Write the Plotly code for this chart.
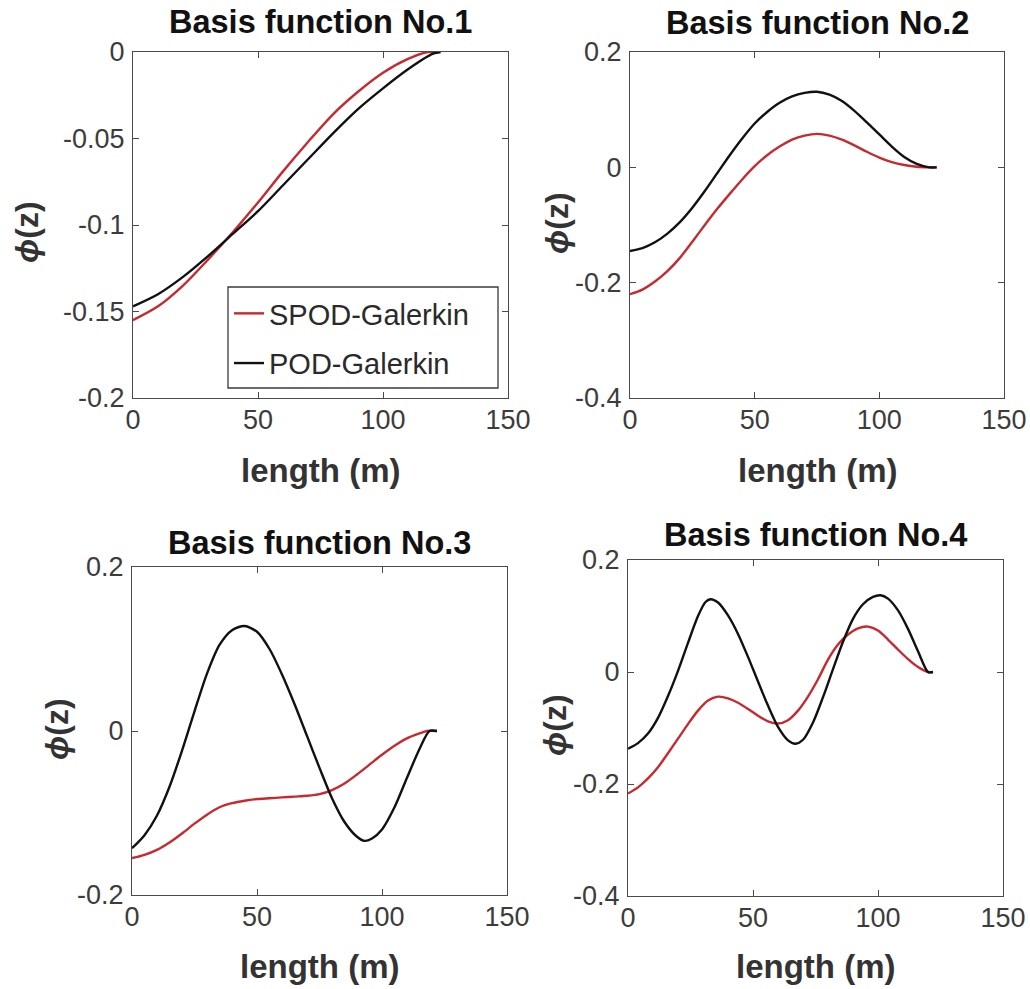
import plotly.graph_objects as go

# ---- basis function samples along the riser length (m) ----
# No.1
z1_spod = [0, 10, 20, 30, 40, 50, 60, 70, 80, 90, 100, 110, 118, 123]
phi1_spod = [-0.155, -0.147, -0.135, -0.120, -0.104, -0.087, -0.069, -0.052,
             -0.036, -0.023, -0.012, -0.004, 0.0, 0.0]
z1_pod = [0, 10, 20, 30, 40, 50, 60, 70, 80, 90, 100, 110, 120, 123]
phi1_pod = [-0.147, -0.140, -0.130, -0.118, -0.105, -0.092, -0.077, -0.062,
            -0.047, -0.033, -0.021, -0.010, -0.001, 0.0]

# No.2
z2_spod = [0, 5, 10, 15, 20, 25, 30, 35, 40, 45, 50, 55, 60, 65, 70, 75,
           80, 85, 90, 95, 100, 105, 110, 115, 120, 123]
phi2_spod = [-0.220, -0.212, -0.198, -0.180, -0.157, -0.129, -0.100, -0.072,
             -0.046, -0.021, 0.002, 0.021, 0.036, 0.048, 0.055, 0.058,
             0.055, 0.048, 0.038, 0.027, 0.017, 0.009, 0.004, 0.001, 0.0, 0.0]
z2_pod = [0, 5, 10, 15, 20, 25, 30, 35, 40, 45, 50, 55, 60, 65, 70, 75,
          80, 85, 90, 95, 100, 105, 110, 115, 120, 123]
phi2_pod = [-0.145, -0.140, -0.130, -0.115, -0.095, -0.070, -0.041, -0.010,
            0.021, 0.050, 0.076, 0.096, 0.112, 0.123, 0.129, 0.131,
            0.126, 0.115, 0.098, 0.078, 0.057, 0.036, 0.018, 0.006, 0.0, 0.0]

# No.3
z3_spod = [0, 5, 10, 15, 20, 25, 30, 35, 40, 45, 50, 55, 60, 65, 70, 75,
           80, 85, 90, 95, 100, 105, 110, 115, 118, 122]
phi3_spod = [-0.155, -0.151, -0.145, -0.136, -0.125, -0.113, -0.102, -0.093,
             -0.088, -0.085, -0.083, -0.082, -0.081, -0.080, -0.079, -0.077,
             -0.072, -0.064, -0.053, -0.041, -0.029, -0.018, -0.009, -0.003,
             0.0, 0.0]
z3_pod = [0, 5, 10, 15, 20, 25, 30, 35, 40, 45, 50, 55, 60, 65, 70, 75,
          80, 85, 90, 93, 96, 100, 105, 110, 115, 119, 122]
phi3_pod = [-0.143, -0.127, -0.103, -0.068, -0.024, 0.024, 0.070, 0.105,
            0.123, 0.128, 0.121, 0.100, 0.069, 0.033, -0.006, -0.045,
            -0.082, -0.111, -0.129, -0.134, -0.131, -0.120, -0.093, -0.057,
            -0.022, 0.0, 0.0]

# No.4
z4_spod = [0, 4, 8, 12, 16, 20, 24, 28, 32, 36, 40, 44, 48, 52, 56, 60,
           64, 68, 72, 76, 80, 84, 88, 92, 96, 100, 104, 108, 112, 116,
           120, 122]
phi4_spod = [-0.217, -0.206, -0.190, -0.170, -0.145, -0.119, -0.093, -0.069,
             -0.051, -0.044, -0.047, -0.055, -0.066, -0.078, -0.088, -0.092,
             -0.086, -0.069, -0.044, -0.013, 0.022, 0.049, 0.067, 0.078,
             0.081, 0.074, 0.058, 0.040, 0.023, 0.009, 0.0, 0.0]
z4_pod = [0, 4, 8, 12, 16, 20, 24, 28, 31, 33, 36, 40, 44, 48, 52, 56,
          60, 64, 67, 70, 74, 78, 82, 86, 90, 94, 98, 101, 104, 108, 112,
          116, 120, 122]
phi4_pod = [-0.137, -0.127, -0.110, -0.082, -0.043, 0.002, 0.052, 0.100,
            0.125, 0.130, 0.124, 0.101, 0.068, 0.027, -0.017, -0.060,
            -0.098, -0.122, -0.128, -0.121, -0.090, -0.045, 0.005, 0.054,
            0.095, 0.121, 0.134, 0.137, 0.131, 0.110, 0.077, 0.037, 0.0, 0.0]

panel_titles = ["Basis function No.1", "Basis function No.2",
                "Basis function No.3", "Basis function No.4"]
series_names = ["SPOD-Galerkin", "POD-Galerkin"]
y_ranges = [[-0.2, 0.0], [-0.4, 0.2], [-0.2, 0.2], [-0.4, 0.2]]
y_ticks = [[-0.2, -0.15, -0.1, -0.05, 0.0], [-0.4, -0.2, 0.0, 0.2],
           [-0.2, 0.0, 0.2], [-0.4, -0.2, 0.0, 0.2]]
y_ticktext = [["-0.2", "-0.15", "-0.1", "-0.05", "0"], ["-0.4", "-0.2", "0", "0.2"],
              ["-0.2", "0", "0.2"], ["-0.4", "-0.2", "0", "0.2"]]
x_ticks = [0, 50, 100, 150]

W, H = 1030, 989
RED = "#c62a30"
BLACK = "#111111"
FONT = "Liberation Sans, Arial, Helvetica, sans-serif"

# plot areas in pixels: (left, right, top, bottom)
boxes = [(133, 508, 52, 398), (630, 1004, 52, 398),
         (132, 507, 567, 895), (628, 1003, 560, 896)]
title_rows = [22, 23, 543, 535]
xlabel_rows = [470, 470, 966, 966]
ylabel_pos = [(27, 232), (557, 223), (57, 729), (555, 725)]
# legend frame in pixels: (left, right, top, bottom)
legend_frame = (228, 498, 287, 388)

spod = [(z1_spod, phi1_spod), (z2_spod, phi2_spod),
        (z3_spod, phi3_spod), (z4_spod, phi4_spod)]
pod = [(z1_pod, phi1_pod), (z2_pod, phi2_pod),
       (z3_pod, phi3_pod), (z4_pod, phi4_pod)]

fig = go.Figure()

for i in range(4):
    xa = "x" if i == 0 else f"x{i + 1}"
    ya = "y" if i == 0 else f"y{i + 1}"
    for k, ((zz, pp), col) in enumerate([(spod[i], RED), (pod[i], BLACK)]):
        fig.add_trace(go.Scatter(
            x=zz, y=pp, mode="lines", xaxis=xa, yaxis=ya,
            line=dict(color=col, width=2.4, shape="spline", smoothing=0.8),
            name=series_names[k], legendgroup=series_names[k],
            showlegend=(i == 0),
        ))

annotations = []
for i, (l, r, t, b) in enumerate(boxes):
    sx = "" if i == 0 else str(i + 1)
    axis_common = dict(
        showgrid=False, zeroline=False, showline=True, mirror="ticks",
        linecolor="#4a4a4a", linewidth=1.3, ticks="inside", ticklen=6,
        tickwidth=1.2, tickcolor="#4a4a4a", automargin=False,
        tickfont=dict(family=FONT, size=27, color="#3c3c3c"),
    )
    fig.layout["xaxis" + sx] = dict(
        axis_common, domain=[l / W, r / W], range=[0, 150],
        tickvals=x_ticks, ticklabelstandoff=-3,
        anchor="y" + sx,
    )
    fig.layout["yaxis" + sx] = dict(
        axis_common, domain=[1 - b / H, 1 - t / H], range=y_ranges[i],
        tickvals=y_ticks[i], ticktext=y_ticktext[i], ticklabelstandoff=2,
        anchor="x" + sx,
    )
    cx = (l + r) / 2
    annotations.append(dict(
        text="<b>" + panel_titles[i] + "</b>", x=cx / W, y=1 - title_rows[i] / H,
        xref="paper", yref="paper", showarrow=False, xanchor="center",
        yanchor="middle", font=dict(family=FONT, size=32.5, color="#111111"),
    ))
    annotations.append(dict(
        text="<b>length (m)</b>", x=cx / W, y=1 - xlabel_rows[i] / H,
        xref="paper", yref="paper", showarrow=False, xanchor="center",
        yanchor="middle", font=dict(family=FONT, size=33, color="#333333"),
    ))
    lx, ly = ylabel_pos[i]
    annotations.append(dict(
        text="<b><i>ϕ</i>(z)</b>", x=lx / W, y=1 - ly / H,
        xref="paper", yref="paper", showarrow=False, textangle=-90,
        xanchor="center", yanchor="middle",
        font=dict(family=FONT, size=32, color="#333333"),
    ))

fl, fr, ft, fb = legend_frame
legend_box = dict(
    type="rect", xref="paper", yref="paper", layer="above",
    x0=fl / W, x1=fr / W, y0=1 - fb / H, y1=1 - ft / H,
    line=dict(color="#3a3a3a", width=1.3), fillcolor="white",
)

fig.update_layout(
    width=W, height=H, margin=dict(l=0, r=0, t=0, b=0),
    paper_bgcolor="white", plot_bgcolor="white",
    annotations=annotations,
    shapes=[legend_box],
    showlegend=True,
    legend=dict(
        x=(fl + 1) / W, y=1 - (ft + 1) / H, xanchor="left", yanchor="top",
        bgcolor="rgba(255,255,255,0)", borderwidth=0,
        font=dict(family=FONT, size=29, color="#2a2a2a"),
        traceorder="grouped", tracegroupgap=9, itemwidth=30,
    ),
)

fig.write_html("out.html")
